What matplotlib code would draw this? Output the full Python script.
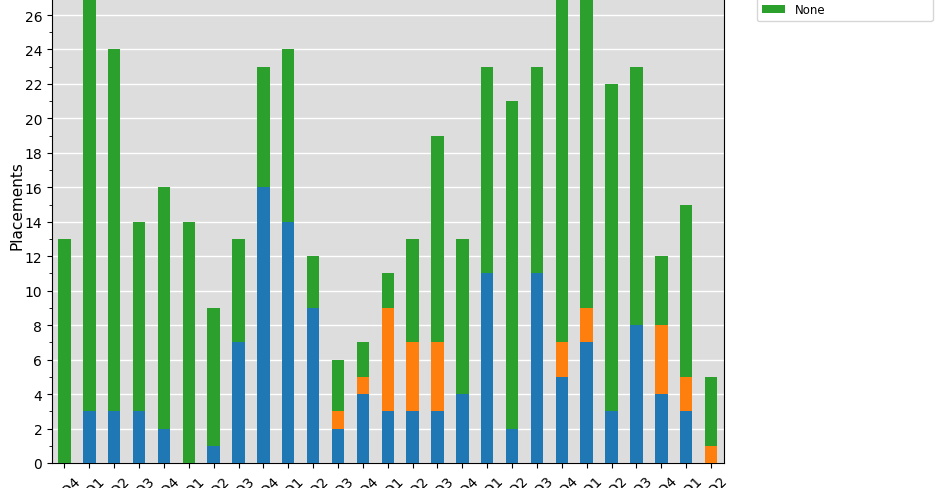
import matplotlib
matplotlib.use("Agg")
import matplotlib.pyplot as plt
import numpy as np

quarters = ["Q4", "Q1", "Q2", "Q3", "Q4", "Q1", "Q2", "Q3", "Q4", "Q1", "Q2", "Q3", "Q4",
            "Q1", "Q2", "Q3", "Q4", "Q1", "Q2", "Q3", "Q4", "Q1", "Q2", "Q3", "Q4", "Q1", "Q2"]
years = ["15"] + ["16"] * 4 + ["17"] * 4 + ["18"] * 4 + ["19"] * 4 + ["20"] * 4 + ["21"] * 4 + ["22"] * 2
tick_labels = [y + q for y, q in zip(years, quarters)]

blue_vals = [0, 3, 3, 3, 2, 0, 1, 7, 16, 14, 9, 2, 4, 3, 3, 3, 4, 11, 2, 11, 5, 7, 3, 8, 4, 3, 0]
orange_vals = [0, 0, 0, 0, 0, 0, 0, 0, 0, 0, 0, 1, 1, 6, 4, 4, 0, 0, 0, 0, 2, 2, 0, 0, 4, 2, 1]
totals = [13, 28, 24, 14, 16, 14, 9, 13, 23, 24, 12, 6, 7, 11, 13, 19, 13, 23, 21, 23, 28, 28, 22, 23, 12, 15, 5]
green_vals = [t - b - o for t, b, o in zip(totals, blue_vals, orange_vals)]

series_labels = ["Full-time employment", "Part-time employment", "None"]
colors = ["#1f77b4", "#ff7f0e", "#2ca02c"]

fig = plt.figure(figsize=(9.4, 4.89), dpi=100)
W, H = 940, 489
left_px, right_px, bottom_px = 52, 723.5, 464
ymax = 30
px_per_unit = 17.23
ax_h_px = ymax * px_per_unit
ax = fig.add_axes([left_px / W, (H - bottom_px) / H, (right_px - left_px) / W, ax_h_px / H])

x = np.arange(len(tick_labels))
bottoms = np.zeros(len(x))
for vals, lab, col in zip([blue_vals, orange_vals, green_vals], series_labels, colors):
    ax.bar(x, vals, width=0.5, bottom=bottoms, color=col, label=lab, zorder=3)
    bottoms += np.array(vals)

ax.set_facecolor("#dddddd")
ax.grid(axis="y", color="white", linewidth=1, zorder=0)
ax.set_axisbelow(True)
ax.set_xlim(-0.5, len(x) - 0.5)
ax.set_ylim(0, ymax)
ax.set_yticks(np.arange(0, ymax + 1, 2))
ax.set_yticks(np.arange(0, ymax + 1, 1), minor=True)
ax.set_xticks(x)
ax.set_xticklabels(tick_labels, rotation=45)
ax.set_ylabel("Placements", fontsize=11, labelpad=0)
ax.tick_params(axis="both", labelsize=10)

fig.legend(loc="lower left", bbox_to_anchor=(751 / W, 1 - 28 / H), fontsize=8.5,
           bbox_transform=fig.transFigure)

fig.savefig("out.png", dpi=100)
